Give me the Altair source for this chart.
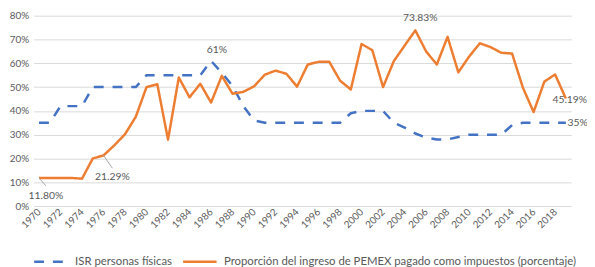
import altair as alt
import pandas as pd

years = list(range(1970, 2020))

isr = [35, 35, 42, 42, 42, 50, 50, 50, 50, 50,
       55, 55, 55, 55, 55, 55, 61, 56, 50.5, 42,
       36, 35, 35, 35, 35, 35, 35, 35, 35, 39,
       40, 40, 40, 35, 33, 30.5, 28.8, 28, 28, 29,
       30, 30, 30, 30, 34, 35, 35, 35, 35, 35]

pemex = [11.8, 11.8, 11.8, 11.8, 11.5, 20.0, 21.29, 25.5, 30.2, 37.5,
         50.0, 51.2, 27.9, 54.0, 45.7, 51.4, 43.5, 54.7, 47.2, 48.0,
         50.3, 55.2, 56.9, 55.6, 50.2, 59.5, 60.6, 60.6, 52.7, 49.0,
         68.1, 65.5, 50.0, 60.9, 67.4, 73.83, 65.0, 59.5, 71.1, 56.2,
         62.8, 68.4, 66.8, 64.4, 64.1, 49.8, 39.5, 52.3, 55.3, 45.19]

series_names = ["ISR personas físicas",
                "Proporción del ingreso de PEMEX pagado como impuestos (porcentaje)"]
series_colors = ["#4472C4", "#ED7D31"]

y_ticks = [0, 10, 20, 30, 40, 50, 60, 70, 80]
x_ticks = list(range(1970, 2019, 2))

# annotated points: (series index, year, text)
annot_series = [1, 1, 0, 1, 1, 0]
annot_years = [1970, 1976, 1986, 2005, 2019, 2019]
annot_texts = ["11.80%", "21.29%", "61%", "73.83%", "45.19%", "35%"]

FONT = "Lato"
GRAY = "#595959"

df = pd.DataFrame({
    "year": years * 2,
    "value": isr + pemex,
    "series": [series_names[0]] * len(years) + [series_names[1]] * len(years),
})

x_scale = alt.Scale(domain=[1969.5, 2019.5], nice=False, zero=False)
y_scale = alt.Scale(domain=[0, 80], nice=False)

x_axis = alt.Axis(values=x_ticks, format="d", labelAngle=315, labelAlign="right",
                  labelBaseline="middle", labelPadding=4, ticks=False, domain=False,
                  grid=False, title=None, labelFontSize=10, labelColor=GRAY,
                  labelFont=FONT, labelOverlap=False, labelBound=False)
y_axis = alt.Axis(values=y_ticks, labelExpr="datum.value + '%'", ticks=False,
                  domain=False, grid=True, gridColor="#D9D9D9", gridWidth=1,
                  title=None, labelFontSize=10, labelColor=GRAY, labelFont=FONT,
                  labelPadding=5, labelOverlap=False, labelBound=False)


def xe():
    return alt.X("year:Q", scale=x_scale, axis=x_axis)


def ye():
    return alt.Y("value:Q", scale=y_scale, axis=y_axis)


color_enc = alt.Color("series:N",
                      scale=alt.Scale(domain=series_names, range=series_colors),
                      legend=alt.Legend(orient="none", legendX=-1, legendY=231,
                                        direction="horizontal", title=None,
                                        symbolType="stroke", symbolSize=1150,
                                        symbolStrokeWidth=2.5, labelFontSize=11.5,
                                        labelColor=GRAY, labelFont=FONT, labelOffset=6,
                                        columnPadding=5, labelLimit=500))
dash_enc = alt.StrokeDash("series:N",
                          scale=alt.Scale(domain=series_names, range=[[10, 9], [1, 0]]),
                          legend=None)

base = alt.Chart(df)
line_isr = base.transform_filter(alt.datum.series == series_names[0]).mark_line(
    strokeWidth=2.5, strokeJoin="round").encode(x=xe(), y=ye(), color=color_enc,
                                                strokeDash=dash_enc)
line_pemex = base.transform_filter(alt.datum.series == series_names[1]).mark_line(
    strokeWidth=2.5, strokeJoin="round").encode(x=xe(), y=ye(), color=color_enc,
                                                strokeDash=dash_enc)

layers = [line_isr, line_pemex]

# label offsets (pixels) for each annotation
offsets = [(7, 18), (9, 22), (6, -11), (5, -12), (4, 2), (12, 0)]
for i in range(len(annot_years)):
    sidx = annot_series[i]
    yv = (isr if sidx == 0 else pemex)[years.index(annot_years[i])]
    adf = pd.DataFrame({"year": [annot_years[i]], "value": [yv], "label": [annot_texts[i]]})
    dx, dy = offsets[i]
    layers.append(alt.Chart(adf).mark_text(dx=dx, dy=dy, fontSize=10.5, font=FONT,
                                           color=GRAY, align="center", baseline="middle").encode(
        x=xe(), y=ye(), text="label:N"))

# leader lines for the two lower labels
for i, (ldx, ldy) in zip([0, 1], [(7, 8), (9, 13)]):
    sidx = annot_series[i]
    yv = (isr if sidx == 0 else pemex)[years.index(annot_years[i])]
    ldf = pd.DataFrame({"year": [annot_years[i]], "value": [yv]})
    layers.append(alt.Chart(ldf).mark_rule(color="#A6A6A6", strokeWidth=1,
                                           x2Offset=ldx, y2Offset=ldy).encode(
        x=xe(), y=ye(), x2="year:Q", y2="value:Q"))

chart = alt.layer(*layers).properties(
    width=545, height=193,
    autosize=alt.AutoSizeParams(type="none"),
    padding={"left": 26, "top": 6, "right": 16, "bottom": 60},
).configure_view(stroke=None)

chart.save("out.html", embed_options={"renderer": "svg", "actions": False})
